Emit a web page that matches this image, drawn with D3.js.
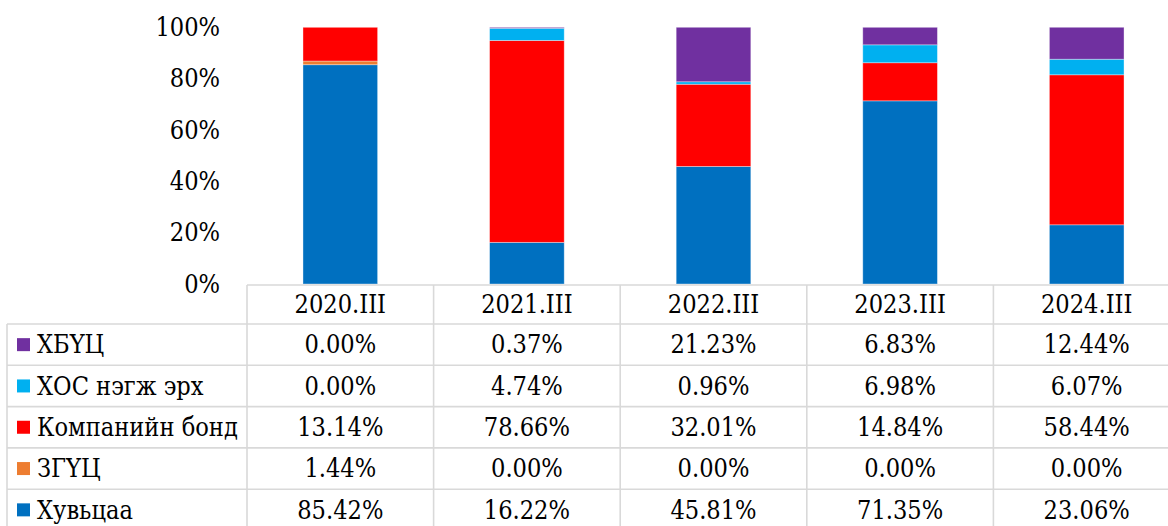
<!DOCTYPE html>
<html><head><meta charset="utf-8">
<script src="https://cdn.jsdelivr.net/npm/d3@7"></script>
<style>
html,body{margin:0;padding:0;background:#fff;overflow:hidden}
</style></head>
<body>
<svg id="chart" width="1168" height="526"></svg>
<script>
const categories = ["2020.III","2021.III","2022.III","2023.III","2024.III"];
const seriesNames = ["Хувьцаа","ЗГҮЦ","Компанийн бонд","ХОС нэгж эрх","ХБҮЦ"];
const hubtsaa   = [85.42, 16.22, 45.81, 71.35, 23.06];
const zguts     = [1.44, 0.00, 0.00, 0.00, 0.00];
const companyBond = [13.14, 78.66, 32.01, 14.84, 58.44];
const hosUnits  = [0.00, 4.74, 0.96, 6.98, 6.07];
const hbuts     = [0.00, 0.37, 21.23, 6.83, 12.44];
const yTicks = [0, 20, 40, 60, 80, 100];
const colors = ["#0070C0","#ED7D31","#FF0000","#00B0F0","#7030A0"];

const FONT = "'DejaVu Serif Condensed', 'DejaVu Serif', serif";
const seriesValues = [hubtsaa, zguts, companyBond, hosUnits, hbuts];
const rows = categories.map((c,i)=>{
  const r = {cat:c};
  seriesNames.forEach((s,j)=>{ r[s] = seriesValues[j][i]; });
  return r;
});

const svg = d3.select("#chart");

// choose a font size so that the legend label width matches the reference (~201px)
const probe = svg.append("text").attr("font-family", FONT).attr("font-size", 26)
  .attr("font-stretch","condensed").text("Компанийн бонд");
const w26 = probe.node().getComputedTextLength();
probe.remove();
const FS = Math.min(26, 26 * 201 / w26);

const tableLeft = 7, plotLeft = 247, plotRight = 1180;
const yTop = 27.3, yBottom = 284;
const x = d3.scaleBand().domain(categories).range([plotLeft, plotRight]).padding(0);
const y = d3.scaleLinear().domain([0,100]).range([yBottom, yTop]);
const color = d3.scaleOrdinal().domain(seriesNames).range(colors);

const stack = d3.stack().keys(seriesNames)(rows);
const barW = x.bandwidth()*0.4;

svg.append("g").selectAll("g").data(stack).join("g")
  .attr("fill", d=>color(d.key))
  .selectAll("rect").data(d=>d).join("rect")
  .attr("x", d=>x(d.data.cat) + (x.bandwidth()-barW)/2)
  .attr("width", barW)
  .attr("y", d=>y(d[1]))
  .attr("height", d=>Math.max(0, y(d[0]) - y(d[1])))
  .attr("stroke", "rgba(255,255,255,0.45)")
  .attr("stroke-width", 0.8);

const yAxis = d3.axisLeft(y).tickValues(yTicks).tickFormat(d=>d+"%").tickSize(0).tickPadding(0);
const ga = svg.append("g").attr("transform","translate(220,0)").call(yAxis)
  .attr("font-family", FONT).attr("font-size", FS).attr("font-stretch","condensed");
ga.select(".domain").remove();
ga.selectAll("text").attr("fill","#000").attr("dy","0.32em");

const headerTop = 285, headerBottom = 324, rowH = 41.3;
const tableRows = seriesNames.slice().reverse();
const gridColor = "#d9d9d9";
const tg = svg.append("g").attr("font-family", FONT).attr("font-size", FS).attr("font-stretch","condensed");
tg.append("line").attr("x1",plotLeft).attr("x2",plotRight).attr("y1",headerTop).attr("y2",headerTop)
  .attr("stroke",gridColor).attr("stroke-width",1.6);
d3.range(tableRows.length+1).forEach(i=>{
  const yy = headerBottom + i*rowH;
  tg.append("line").attr("x1",tableLeft).attr("x2",plotRight).attr("y1",yy).attr("y2",yy)
    .attr("stroke",gridColor).attr("stroke-width",1.6);
});
tg.append("line").attr("x1",tableLeft).attr("x2",tableLeft).attr("y1",headerBottom).attr("y2",540)
  .attr("stroke",gridColor).attr("stroke-width",1.6);
categories.forEach(c=>{
  tg.append("line").attr("x1",x(c)).attr("x2",x(c)).attr("y1",headerTop).attr("y2",540)
    .attr("stroke",gridColor).attr("stroke-width",1.6);
});
tg.append("line").attr("x1",plotRight).attr("x2",plotRight).attr("y1",headerTop).attr("y2",540)
  .attr("stroke",gridColor).attr("stroke-width",1.6);

tg.selectAll("text.hdr").data(categories).join("text").attr("class","hdr")
  .attr("x", d=>x(d)+x.bandwidth()/2).attr("y",(headerTop+headerBottom)/2)
  .attr("dy","0.35em").attr("text-anchor","middle").text(d=>d);

tableRows.forEach((s,i)=>{
  const cy = headerBottom + i*rowH + rowH/2;
  tg.append("rect").attr("x",17).attr("y",cy-6.5).attr("width",13).attr("height",13).attr("fill",color(s));
  tg.append("text").attr("x",37).attr("y",cy).attr("dy","0.35em").text(s);
  const vals = seriesValues[seriesNames.indexOf(s)];
  categories.forEach((c,k)=>{
    tg.append("text").attr("x",x(c)+x.bandwidth()/2).attr("y",cy).attr("dy","0.35em")
      .attr("text-anchor","middle").text(vals[k].toFixed(2)+"%");
  });
});
</script>
</body></html>
